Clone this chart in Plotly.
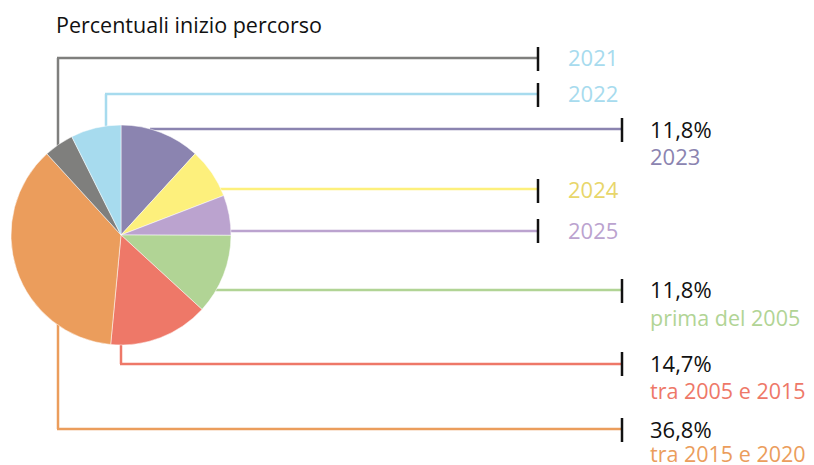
import plotly.graph_objects as go

W, H = 814, 465

categories = ["2023", "2024", "2025", "prima del 2005", "tra 2005 e 2015",
              "tra 2015 e 2020", "2021", "2022"]
values = [11.8, 7.4, 5.9, 11.8, 14.7, 36.8, 4.4, 7.4]
slice_colors = ["#8b84b0", "#fdf07c", "#bba3cf", "#b1d495", "#ee7868",
                "#eb9d5c", "#7f7f7d", "#a7dbee"]
pct_labels = ["11,8%", "11,8%", "14,7%", "36,8%"]
title_text = "Percentuali inizio percorso"

FONT = "Open Sans"


def px(x):
    return x / W


def py(y):
    return 1 - y / H


fig = go.Figure()
cx, cy, r = 121, 235, 110
fig.add_trace(go.Pie(
    labels=categories, values=values, sort=False, direction="clockwise",
    rotation=0, textinfo="none", hoverinfo="label+percent",
    marker=dict(colors=slice_colors, line=dict(color="white", width=0.5)),
    domain=dict(x=[px(cx - r), px(cx + r)], y=[py(cy + r), py(cy - r)]),
    showlegend=False,
))

shapes = []


def seg(x0, y0, x1, y1, color, w=2.5, layer="below"):
    shapes.append(dict(type="line", xref="paper", yref="paper",
                       x0=px(x0), y0=py(y0), x1=px(x1), y1=py(y1),
                       line=dict(color=color, width=w), layer=layer))


def tick(x, yc):
    seg(x, yc - 12, x, yc + 12, "#111111", 2.5, "above")


# 2021 gray
seg(58, 160, 58, 58, "#7f7f7d"); seg(57, 58, 538, 58, "#7f7f7d"); tick(538, 59)
# 2022 light blue
seg(106, 140, 106, 94, "#a7dbee"); seg(105, 94, 538, 94, "#a7dbee"); tick(538, 95)
# 2023 purple
seg(150, 129, 622, 129, "#8b84b0"); tick(622, 130)
# 2024 yellow
seg(200, 189, 538, 189, "#fdf07c"); tick(538, 191)
# 2025 lilac
seg(200, 231, 538, 231, "#bba3cf"); tick(538, 231)
# prima del 2005 green
seg(200, 290, 622, 290, "#b1d495"); tick(622, 291)
# tra 2005 e 2015 red
seg(121, 330, 121, 364, "#ee7868"); seg(120, 364, 622, 364, "#ee7868"); tick(622, 364)
# tra 2015 e 2020 orange
seg(58, 320, 58, 429, "#eb9d5c"); seg(57, 429, 622, 429, "#eb9d5c"); tick(622, 430)

annotations = []


def txt(x, y, s, color, size=21.5):
    annotations.append(dict(x=px(x), y=py(y), xref="paper", yref="paper",
                            text=s, showarrow=False, xanchor="left",
                            yanchor="middle", borderpad=0,
                            font=dict(family=FONT, size=size, color=color)))


txt(55, 25, title_text, "#111111", 21.5)
txt(567, 57, categories[6], "#a7dbee", 22)
txt(567, 93, categories[7], "#a7dbee", 22)
txt(649, 129, pct_labels[0], "#111111", 22)
txt(649, 156, categories[0], "#8b84b0", 22)
txt(567, 189, categories[1], "#e8d66a", 22)
txt(567, 230, categories[2], "#bba3cf", 22)
txt(649, 289, pct_labels[1], "#111111", 22)
txt(649, 317, categories[3], "#b1d495")
txt(649, 363, pct_labels[2], "#111111", 22)
txt(649, 390, categories[4], "#ee7868")
txt(649, 429, pct_labels[3], "#111111", 22)
txt(649, 453, categories[5], "#eb9d5c")

fig.update_layout(
    width=W, height=H, margin=dict(l=0, r=0, t=0, b=0),
    paper_bgcolor="white", plot_bgcolor="white",
    shapes=shapes, annotations=annotations,
)
fig.write_html("out.html", config={"displayModeBar": False},
               post_script="document.body.style.margin='0';"
                           "document.body.style.overflow='hidden';")
